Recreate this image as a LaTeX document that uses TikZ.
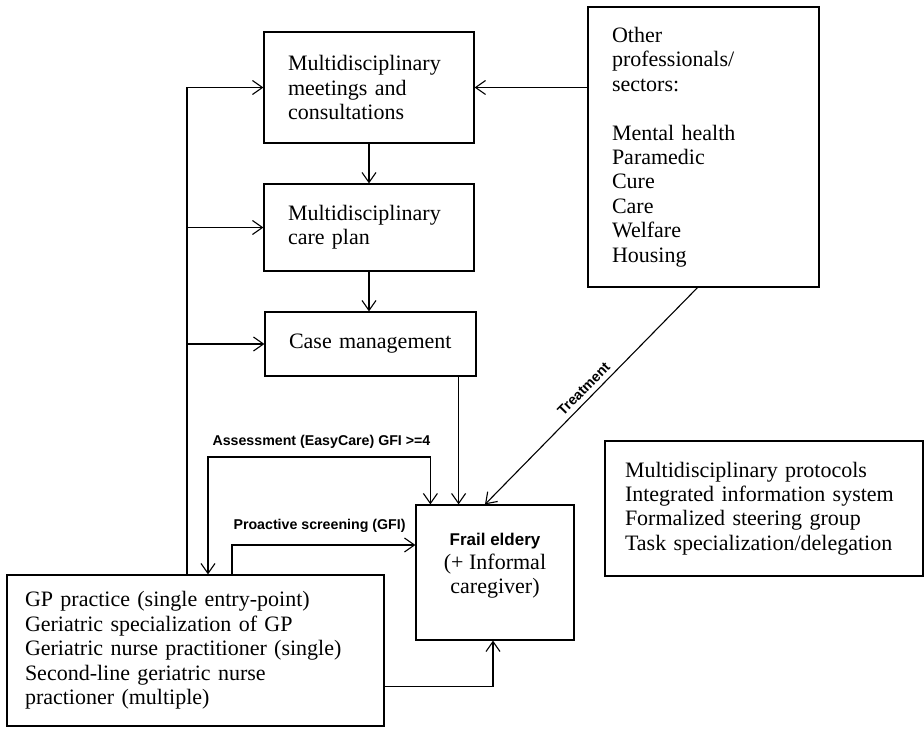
\documentclass[tikz,border=0pt]{standalone}
\usepackage{fontspec}
\setmainfont{Liberation Serif}
\setsansfont{Liberation Sans}
\usepackage{tikz}
\usetikzlibrary{arrows.meta, positioning}

\tikzset{
  stagebox/.style={draw, line width=1.2pt, inner sep=0pt, align=left,
    font=\fontsize{22}{24.4}\selectfont},
  lbl/.style={inner sep=0pt, font=\sffamily\bfseries\fontsize{14.2}{16}\selectfont}
}

\begin{document}
\begin{tikzpicture}[x=1pt, y=-1pt, line width=1.1pt,
    >={Straight Barb[length=10pt,width=14pt]}]
  \useasboundingbox (0,0) rectangle (924,735);

  % care chain
  \node[stagebox, minimum width=210pt, minimum height=111pt, text width=162pt] (meets) at (369,87.5)
    {Multidisciplinary\\meetings and\\consultations};
  \node[stagebox, minimum width=210pt, minimum height=87pt, text width=162pt] (care) at (369,227.5)
    {Multidisciplinary\\care plan};
  \node[stagebox, minimum width=211pt, minimum height=64pt, text width=163pt] (case) at (370.5,344)
    {Case management};

  % other sectors
  \node[stagebox, minimum width=231pt, minimum height=280pt, text width=183pt] (other) at (703.5,147)
    {Other\\professionals/\\sectors:\\[24.4pt]Mental health\\Paramedic\\Cure\\Care\\Welfare\\Housing};

  % client and GP
  \node[stagebox, align=center, minimum width=158pt, minimum height=135pt] (frail) at (495,572.5)
    {{\sffamily\bfseries\fontsize{17}{20}\selectfont Frail eldery}\\(+ Informal\\caregiver)\\[-6pt]};
  \node[stagebox, minimum width=377pt, minimum height=151pt, text width=341pt] (gp) at (195.5,650.5)
    {GP practice (single entry-point)\\Geriatric specialization of GP\\Geriatric nurse practitioner (single)\\Second-line geriatric nurse\\practioner (multiple)};

  % organisational conditions
  \node[stagebox, minimum width=318pt, minimum height=135pt, text width=278pt] (infra) at (764,508.5)
    {Multidisciplinary protocols\\Integrated information system\\Formalized steering group\\Task specialization/delegation};

  % connectors
  \draw[->] (other.west |- meets.east) -- (meets.east);
  \draw[->] (meets.south) -- (care.north);
  \draw[->] (care.south) -- (care.south |- case.north);

  \coordinate (bus) at (187,0);
  \draw[->] (bus |- gp.north) |- (meets.west);
  \draw[->] (bus |- care.west) -- (care.west);
  \draw[->] (bus |- case.west) -- (case.west);

  \draw[->] ([xshift=-18pt]case.south east) -- ([xshift=-18pt]case.south east |- frail.north);
  \draw[->] ([xshift=-6pt]other.south) -- node[lbl, sloped, above=5pt, pos=0.5] (treat) {Treatment}
    ([xshift=-10pt]frail.north);

  \coordinate (asmt) at (208,457);
  \draw[<->] (asmt |- gp.north) -- (asmt) -| ([xshift=15pt]frail.north west);
  \node[lbl, anchor=south west] (asmtlbl) at ([xshift=4pt,yshift=8pt]asmt)
    {Assessment (EasyCare) GFI >=4};

  \coordinate (proa) at (232,545);
  \draw[->] (proa |- gp.north) |- (proa -| frail.west);
  \node[lbl, anchor=south west] (proalbl) at ([xshift=1pt,yshift=12pt]proa)
    {Proactive screening (GFI)};

  \draw[->] ([yshift=-36pt]gp.east) -| ([xshift=-2pt]frail.south);
\end{tikzpicture}
\end{document}
